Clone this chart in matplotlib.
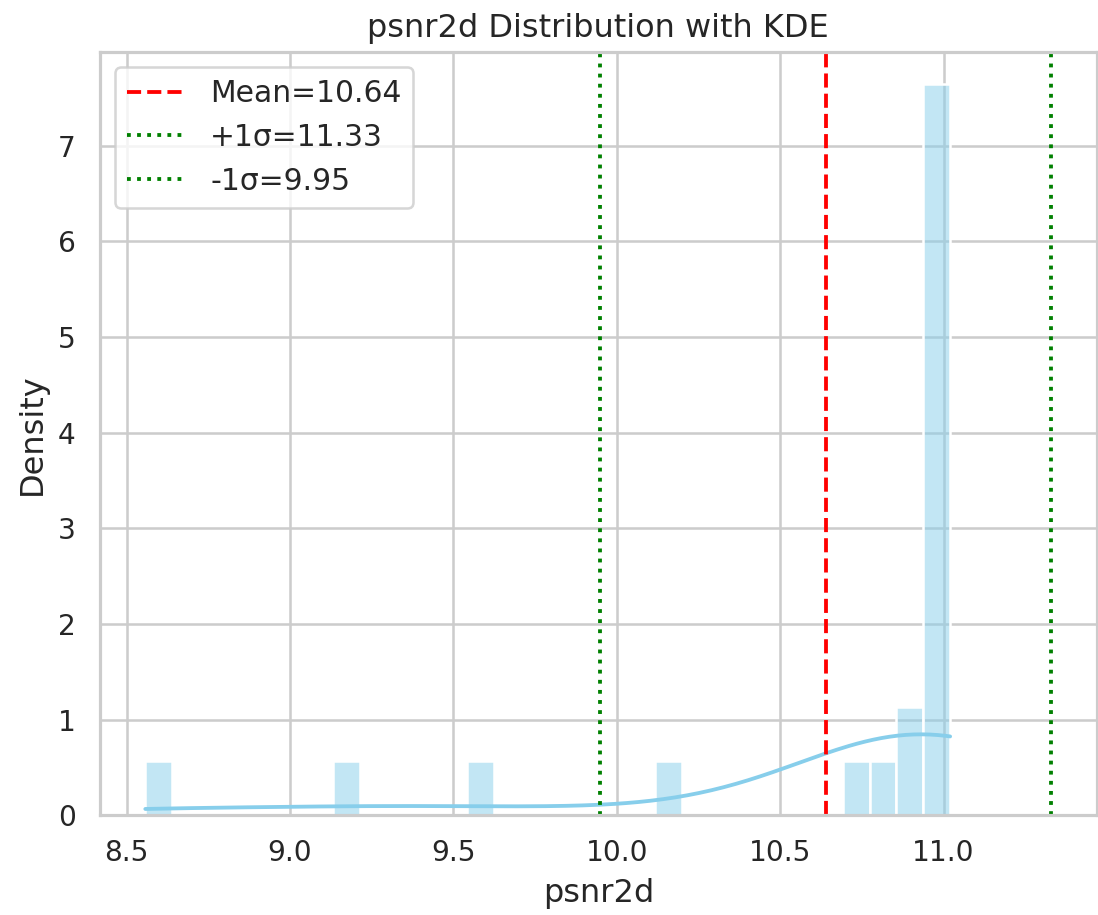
import numpy as np
import pandas as pd
import seaborn as sns
import matplotlib
matplotlib.use("Agg")
import matplotlib.pyplot as plt

# ------------------------------------------------------------
# Data (value, how many times)
# ------------------------------------------------------------
psnr_values = [8.557, 9.135, 9.545, 10.12, 10.70, 10.78, 10.86,
               10.95, 10.97, 10.99, 11.02]
psnr_counts = [2, 2, 2, 2, 2, 2, 4,
               8, 10, 8, 1]

# summary stats shown in the legend
psnr_mean = 10.64
psnr_std = 0.69

df = pd.DataFrame({"psnr2d": np.repeat(psnr_values, psnr_counts)})

sns.set_theme(style="whitegrid")

fig, ax = plt.subplots(figsize=(6.005, 5.0), dpi=183)

sns.histplot(df["psnr2d"], bins=30, kde=True, stat="density",
             color="skyblue", kde_kws={"bw_adjust": 1.18}, ax=ax)

ax.axvline(psnr_mean, color="red", linestyle="--", label=f"Mean={psnr_mean:.2f}")
ax.axvline(psnr_mean + psnr_std, color="green", linestyle=":",
           label=f"+1σ={psnr_mean + psnr_std:.2f}")
ax.axvline(psnr_mean - psnr_std, color="green", linestyle=":",
           label=f"-1σ={psnr_mean - psnr_std:.2f}")

ax.set_ylim(0, 7.98)
ax.set_title("psnr2d Distribution with KDE", fontsize=12.6)
ax.set_xlabel("psnr2d", fontsize=12.6)
ax.set_ylabel("Density", fontsize=12.6)
ax.legend(loc="upper left", fontsize=11.7)

fig.subplots_adjust(left=0.091, right=0.998, top=0.943, bottom=0.109)
fig.savefig("out.png", dpi=183)
